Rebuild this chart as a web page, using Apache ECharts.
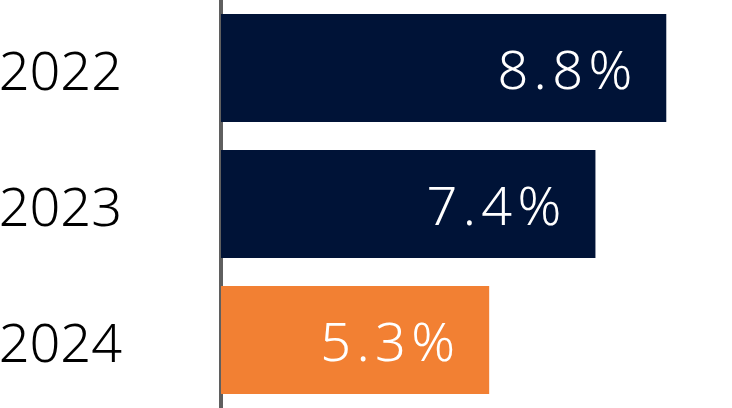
<!DOCTYPE html>
<html><head><meta charset="utf-8">
<script src="https://cdn.jsdelivr.net/npm/echarts@6/dist/echarts.min.js"></script>
<style>html,body{margin:0;padding:0;background:#fff}#c{width:732px;height:408px}</style>
</head><body><div id="c"></div>
<script>
const categories = ['2022', '2023', '2024'];
const values = [8.8, 7.4, 5.3];
const barColors = ['#001337', '#001337', '#F28033'];

const chart = echarts.init(document.getElementById('c'), null, {renderer: 'canvas'});
chart.setOption({
  animation: false,
  grid: {left: 221, right: 5, top: 0, bottom: 0, containLabel: false, outerBoundsMode: 'none'},
  xAxis: {type: 'value', min: 0, max: 10, show: false},
  yAxis: {
    type: 'category', data: categories, inverse: true, offset: 2,
    axisLine: {show: true, lineStyle: {color: '#5f5f5f', width: 4}},
    axisTick: {show: false},
    axisLabel: {
      margin: 97,
      formatter: v => '{a|' + v + '}',
      rich: {a: {fontSize: 54, color: '#000', fontFamily: 'Noto Sans', fontWeight: 300, padding: [14, 0, 0, 0]}}
    }
  },
  series: [{
    type: 'bar',
    barWidth: 108,
    data: values.map((v, i) => ({value: v, itemStyle: {color: barColors[i]}})),
    label: {
      show: true, position: 'insideRight', distance: 34, offset: [0, 6],
      color: '#fff', fontSize: 54, fontFamily: 'Noto Sans', fontWeight: 300,
      formatter: p => p.value.toFixed(1).split('').join('\u200A') + '\u200A%'
    }
  }]
});
</script></body></html>
